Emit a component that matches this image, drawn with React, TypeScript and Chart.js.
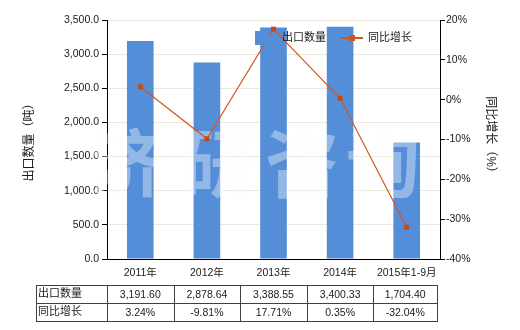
import React, { useEffect, useRef } from "react";
import { Chart, registerables } from "chart.js";

Chart.register(...registerables);

const categories = ["2011年", "2012年", "2013年", "2014年", "2015年1-9月"];
const exportQty = [3191.6, 2878.64, 3388.55, 3400.33, 1704.4];
const yoyGrowth = [3.24, -9.81, 17.71, 0.35, -32.04];
const exportQtyLabels = ["3,191.60", "2,878.64", "3,388.55", "3,400.33", "1,704.40"];
const yoyLabels = ["3.24%", "-9.81%", "17.71%", "0.35%", "-32.04%"];
const seriesNames = ["出口数量", "同比增长"];
const axisTitles = ["出口数量（吨）", "同比增长（%）"];
const watermark = ["济", "研", "咨", "询"];

const FONT = "'Liberation Sans', Arial, 'Noto Sans CJK SC', sans-serif";
const BAR = "#558ed8";
const LINE = "#d2561f";
const TEXT = "#1a1a1a";

export default function App() {
  const ref = useRef<HTMLCanvasElement | null>(null);
  useEffect(() => {
    if (!ref.current) return;
    const extras = {
      id: "extras",
      afterDatasetDraw(chart: any, args: any) {
        if (args.index !== 0) return;
        const ctx = chart.ctx;
        ctx.save();
        ctx.font = `bold 74px 'Noto Sans CJK SC', sans-serif`;
        ctx.fillStyle = "rgba(252,253,253,0.38)";
        ctx.textAlign = "center";
        ctx.textBaseline = "middle";
        const xs = [127, 218, 302, 383];
        watermark.forEach((c, i) => ctx.fillText(c, xs[i], 163));
        ctx.restore();
      },
      afterDraw(chart: any) {
        const ctx = chart.ctx;
        const area = chart.chartArea;
        const xScale = chart.scales.x;
        ctx.save();
        // axis titles
        ctx.font = `12px ${FONT}`;
        ctx.fillStyle = TEXT;
        ctx.textAlign = "center";
        ctx.textBaseline = "middle";
        ctx.save();
        ctx.translate(30, (area.top + area.bottom) / 2);
        ctx.rotate(-Math.PI / 2);
        ctx.fillText(axisTitles[0], 0, 0);
        ctx.restore();
        ctx.save();
        ctx.translate(490, (area.top + area.bottom) / 2 - 2);
        ctx.rotate(Math.PI / 2);
        ctx.fillText(axisTitles[1], 0, 0);
        ctx.restore();

        // x category labels
        ctx.font = `10.5px ${FONT}`;
        for (let i = 0; i < categories.length; i++) {
          ctx.fillText(categories[i], xScale.getPixelForValue(i), area.bottom + 14);
        }

        // legend
        ctx.font = `11px ${FONT}`;
        ctx.textAlign = "left";
        ctx.fillStyle = BAR;
        ctx.fillRect(255, 31, 14, 14);
        ctx.fillStyle = TEXT;
        ctx.fillText(seriesNames[0], 282, 38);
        ctx.strokeStyle = LINE;
        ctx.lineWidth = 2;
        ctx.beginPath();
        ctx.moveTo(341, 38);
        ctx.lineTo(363, 38);
        ctx.stroke();
        ctx.fillStyle = LINE;
        ctx.fillRect(349, 35, 6, 6);
        ctx.fillStyle = TEXT;
        ctx.fillText(seriesNames[1], 368, 38);

        // table
        const top = 285, mid = 303, bot = 321, left = 36, right = 437;
        const bounds: number[] = [area.left];
        for (let i = 0; i < categories.length; i++) {
          const c = xScale.getPixelForValue(i);
          const next = i < categories.length - 1 ? xScale.getPixelForValue(i + 1) : null;
          bounds.push(next !== null ? (c + next) / 2 : right);
        }
        ctx.strokeStyle = "#404040";
        ctx.lineWidth = 1;
        ctx.beginPath();
        [top, mid, bot].forEach((y) => {
          ctx.moveTo(left, y + 0.5);
          ctx.lineTo(right, y + 0.5);
        });
        [left, ...bounds].forEach((x) => {
          const xx = Math.round(x) + 0.5;
          ctx.moveTo(xx, top);
          ctx.lineTo(xx, bot + 1);
        });
        ctx.stroke();
        ctx.fillStyle = TEXT;
        ctx.font = `11px ${FONT}`;
        ctx.textAlign = "left";
        ctx.fillText(seriesNames[0], 38, (top + mid) / 2);
        ctx.fillText(seriesNames[1], 38, (mid + bot) / 2);
        ctx.font = `10.5px ${FONT}`;
        ctx.textAlign = "center";
        for (let i = 0; i < categories.length; i++) {
          const cx = (bounds[i] + bounds[i + 1]) / 2;
          ctx.fillText(exportQtyLabels[i], cx, (top + mid) / 2 + 1);
          ctx.fillText(yoyLabels[i], cx, (mid + bot) / 2 + 1);
        }
        ctx.restore();
      },
    };

    const chart = new Chart(ref.current, {
      type: "bar",
      data: {
        labels: categories,
        datasets: [
          {
            type: "bar",
            label: seriesNames[0],
            data: exportQty,
            backgroundColor: BAR,
            yAxisID: "y",
            order: 1,
            barPercentage: 0.4,
            categoryPercentage: 1,
          },
          {
            type: "line",
            label: seriesNames[1],
            data: yoyGrowth,
            borderColor: LINE,
            backgroundColor: LINE,
            borderWidth: 1.2,
            pointStyle: "rect",
            pointRadius: 3.5,
            pointBackgroundColor: "#c84a12",
            pointBorderWidth: 0,
            yAxisID: "y1",
            order: 0,
          } as any,
        ],
      },
      options: {
        responsive: false,
        animation: false,
        devicePixelRatio: 1,
        layout: { padding: { top: 20, bottom: 51, left: 0, right: 0 } },
        plugins: { legend: { display: false }, tooltip: { enabled: false } },
        scales: {
          x: {
            grid: { display: false },
            border: { display: true, color: "#000", width: 1 },
            ticks: { display: false },
            afterFit: (s: any) => { s.height = 20; },
          },
          y: {
            position: "left",
            min: 0,
            max: 3500,
            ticks: {
              stepSize: 500,
              color: TEXT,
              font: { family: FONT, size: 10.5 },
              padding: 3,
              callback: (v: any) =>
                Number(v).toLocaleString("en-US", { minimumFractionDigits: 1, maximumFractionDigits: 1 }),
            },
            grid: { color: "#ebe9dc", tickColor: "#000", tickLength: 5, drawTicks: true },
            border: { display: true, color: "#000", width: 1 },
            afterFit: (s: any) => { s.width = 107; },
          },
          y1: {
            position: "right",
            min: -40,
            max: 20,
            ticks: {
              stepSize: 10,
              color: TEXT,
              font: { family: FONT, size: 10.5 },
              padding: 1,
              callback: (v: any) => `${v}%`,
            },
            grid: { drawOnChartArea: false, tickColor: "#000", tickLength: 5 },
            border: { display: true, color: "#000", width: 1 },
            afterFit: (s: any) => { s.width = 80; },
          },
        },
      },
      plugins: [extras],
    } as any);
    return () => chart.destroy();
  }, []);

  return (
    <div style={{ position: "absolute", left: 0, top: 0, width: 520, height: 330, background: "#fff" }}>
      <canvas ref={ref} width={520} height={330} />
    </div>
  );
}
